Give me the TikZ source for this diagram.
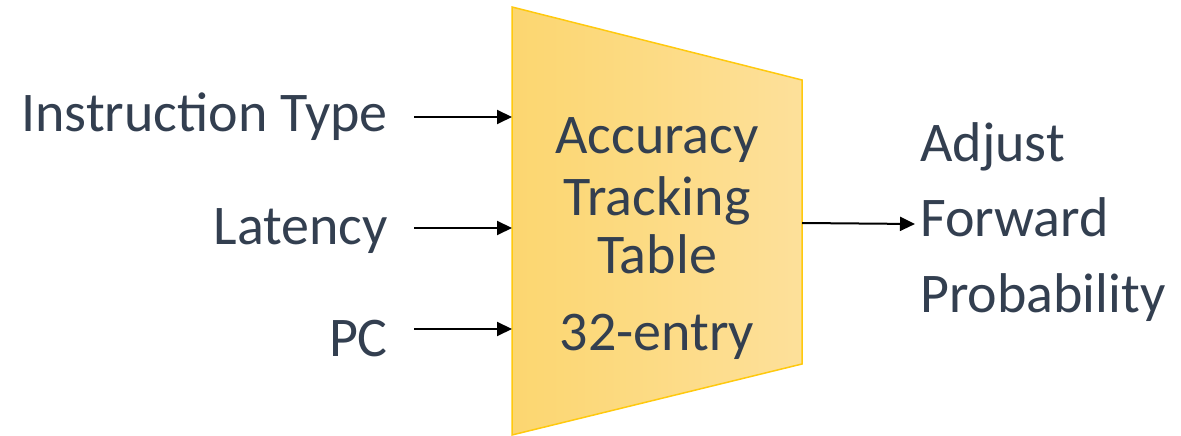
\documentclass[tikz,border=0pt]{standalone}
\usepackage{fontspec}
\setmainfont{Carlito}
\usetikzlibrary{arrows.meta}
\definecolor{txt}{HTML}{333F50}
\definecolor{fillL}{HTML}{FCD670}
\definecolor{fillR}{HTML}{FDE09A}
\definecolor{edge}{HTML}{FFC90E}
\tikzset{
  lbl/.style={text=txt, font=\fontsize{56}{61}\selectfont, inner sep=0pt},
  arr/.style={line width=2pt, -{Triangle[length=15pt,width=14pt]}},
}
\begin{document}
\begin{tikzpicture}[x=1pt,y=1pt]
\useasboundingbox (0,0) rectangle (1181,436);
% table outline (trapezoid)
\coordinate (tl) at (512,429);
\coordinate (tr) at (802,356);
\coordinate (br) at (802,72);
\coordinate (bl) at (512,1);
\shade[left color=fillL, right color=fillR] (tl) -- (tr) -- (br) -- (bl) -- cycle;
\draw[edge, line width=1.5pt, line join=miter] (tl) -- (tr) -- (br) -- (bl) -- cycle;

% table caption
\node[lbl, anchor=base] (t1) at (657,282) {Accuracy};
\node[lbl, anchor=base] (t2) at (657,220) {Tracking};
\node[lbl, anchor=base] (t3) at (657,162) {Table};
\node[lbl, anchor=base] (t4) at (657,85) {32-entry};

% inputs
\node[lbl, anchor=base east] (in1) at (388,304) {Instruction Type};
\node[lbl, anchor=base east] (in2) at (388,191) {Latency};
\node[lbl, anchor=base east] (in3) at (388,79) {PC};
\coordinate (s1) at (414,319);
\coordinate (s2) at (414,208);
\coordinate (s3) at (414,107);
\coordinate (e1) at (512,319);
\coordinate (e2) at (512,208);
\coordinate (e3) at (512,107);
\draw[arr] (s1) -- (e1);
\draw[arr] (s2) -- (e2);
\draw[arr] (s3) -- (e3);

% output
\node[lbl, anchor=base west] (o1) at (920,274) {Adjust};
\node[lbl, anchor=base west] (o2) at (920,199) {Forward};
\node[lbl, anchor=base west] (o3) at (920,123) {Probability};
\coordinate (os) at (802,213);
\coordinate (oe) at (915,212);
\draw[arr] (os) -- (oe);
\end{tikzpicture}
\end{document}
